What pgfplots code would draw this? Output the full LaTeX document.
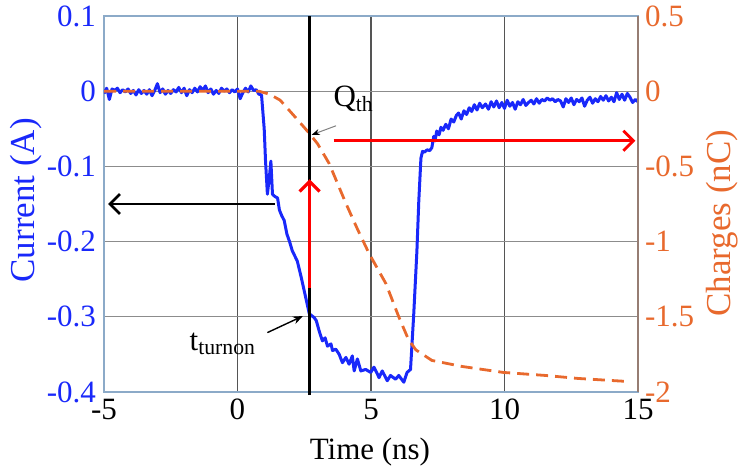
\documentclass[border=0pt]{standalone}
\usepackage{fontspec}
\setmainfont{Liberation Serif}
\usepackage{pgfplots}
\usepackage{pgfplotstable}
\pgfplotsset{compat=1.18}
\usetikzlibrary{arrows.meta}

\definecolor{curblue}{RGB}{25,40,250}
\definecolor{chgorange}{RGB}{232,105,45}
\definecolor{axblue}{RGB}{140,170,200}
\definecolor{axbrown}{RGB}{150,125,115}
\definecolor{gridv}{RGB}{85,85,85}
\definecolor{gridh}{RGB}{140,140,140}

% drain current (A)
\pgfplotstableread{
t I
-5.00 -0.003
-4.90 0.004
-4.80 -0.011
-4.70 0.003
-4.60 0.001
-4.50 0.004
-4.40 -0.002
-4.30 0.002
-4.20 -0.001
-4.10 0.003
-4.00 -0.003
-3.90 0.001
-3.80 -0.005
-3.70 0.002
-3.60 -0.003
-3.50 0.001
-3.40 -0.004
-3.30 0.002
-3.20 -0.006
-3.10 0.001
-3.00 0.010
-2.90 -0.002
-2.80 0.003
-2.70 -0.004
-2.60 0.001
-2.50 -0.003
-2.40 0.002
-2.30 -0.001
-2.20 0.005
-2.10 -0.002
-2.00 0.004
-1.90 -0.006
-1.80 0.002
-1.70 -0.002
-1.60 0.004
-1.50 -0.001
-1.40 0.006
-1.30 0.001
-1.20 0.007
-1.10 -0.002
-1.00 0.003
-0.90 -0.004
-0.80 0.001
-0.70 -0.003
-0.60 0.004
-0.50 0.000
-0.40 0.003
-0.30 -0.002
-0.20 0.002
-0.10 -0.001
0.00 0.003
0.10 -0.010
0.20 -0.002
0.30 0.004
0.40 -0.001
0.50 0.007
0.60 0.001
0.70 0.002
0.80 -0.004
0.90 -0.005
1.00 -0.050
1.05 -0.093
1.12 -0.137
1.20 -0.112
1.25 -0.093
1.31 -0.137
1.40 -0.140
1.50 -0.142
1.57 -0.158
1.65 -0.165
1.75 -0.172
1.85 -0.190
1.95 -0.200
2.05 -0.212
2.24 -0.226
2.39 -0.248
2.69 -0.296
2.87 -0.301
2.95 -0.305
3.06 -0.319
3.18 -0.332
3.28 -0.328
3.37 -0.339
3.50 -0.336
3.56 -0.345
3.68 -0.343
3.81 -0.350
3.93 -0.361
4.06 -0.354
4.18 -0.363
4.30 -0.352
4.37 -0.372
4.49 -0.356
4.62 -0.372
4.80 -0.370
4.99 -0.374
5.11 -0.367
5.24 -0.376
5.30 -0.381
5.42 -0.372
5.61 -0.385
5.73 -0.378
5.92 -0.383
6.04 -0.378
6.23 -0.387
6.35 -0.374
6.48 -0.370
6.60 -0.297
6.72 -0.212
6.79 -0.146
6.87 -0.089
6.93 -0.080
7.00 -0.081
7.10 -0.078
7.20 -0.079
7.28 -0.075
7.35 -0.060
7.40 -0.066
7.46 -0.053
7.55 -0.058
7.62 -0.048
7.70 -0.052
7.80 -0.044
7.90 -0.050
8.00 -0.037
8.10 -0.041
8.20 -0.032
8.28 -0.029
8.38 -0.037
8.48 -0.026
8.58 -0.031
8.68 -0.022
8.77 -0.027
8.87 -0.018
8.97 -0.025
9.07 -0.016
9.17 -0.022
9.29 -0.017
9.40 -0.024
9.50 -0.014
9.60 -0.021
9.70 -0.013
9.80 -0.022
9.90 -0.015
10.00 -0.023
10.10 -0.012
10.20 -0.020
10.30 -0.015
10.40 -0.024
10.50 -0.014
10.60 -0.018
10.70 -0.011
10.80 -0.019
10.90 -0.015
11.00 -0.012
11.10 -0.017
11.20 -0.010
11.30 -0.016
11.40 -0.011
11.50 -0.013
11.60 -0.009
11.70 -0.012
11.80 -0.010
11.90 -0.014
12.00 -0.011
12.10 -0.013
12.20 -0.021
12.30 -0.010
12.40 -0.015
12.50 -0.009
12.60 -0.018
12.70 -0.011
12.80 -0.014
12.90 -0.009
13.00 -0.020
13.10 -0.012
13.20 -0.008
13.30 -0.016
13.40 -0.010
13.50 -0.014
13.60 -0.007
13.70 -0.012
13.80 -0.006
13.90 -0.013
14.00 -0.008
14.10 -0.014
14.20 -0.002
14.30 -0.011
14.40 -0.004
14.50 -0.012
14.60 -0.003
14.70 -0.008
14.80 -0.015
14.90 -0.011
15.00 -0.014
}\currenttable

% charges (nC)
\pgfplotstableread{
t Q
-5.00 0.00
0.80 0.00
1.20 -0.02
1.60 -0.06
2.00 -0.14
2.20 -0.18
2.69 -0.28
3.00 -0.35
3.43 -0.48
4.07 -0.75
4.50 -0.92
4.93 -1.08
5.56 -1.28
6.04 -1.50
6.40 -1.65
6.68 -1.72
7.28 -1.79
8.40 -1.83
9.96 -1.87
11.53 -1.89
12.76 -1.91
14.60 -1.93
}\chargetable

\begin{document}
\begin{tikzpicture}
\useasboundingbox (-52pt,-39pt) rectangle (320pt,196pt);
\begin{axis}[
    scale only axis, width=267pt, height=188pt,
    xmin=-5, xmax=15, ymin=-0.4, ymax=0.1,
    xtick={-5,0,5,10,15}, xticklabels={-5,0,5,10,15},
    ytick={-0.4,-0.3,-0.2,-0.1,0,0.1},
    yticklabels={-0.4,-0.3,-0.2,-0.1,0,0.1},
    major tick length=0pt,
    axis line style={axblue, line width=0.6pt},
    xmajorgrids, ymajorgrids,
    x grid style={gridv, line width=0.6pt},
    y grid style={gridh, line width=0.6pt},
    xticklabel style={font=\fontsize{15.5}{18}\selectfont, text=black},
    yticklabel style={font=\fontsize{15.5}{18}\selectfont, text=curblue, xshift=-0.5pt},
    xlabel={Time (ns)},
    xlabel style={font=\fontsize{15.5}{18}\selectfont, at={(axis description cs:0.498,-0.16)}, anchor=center},
    ylabel={Current (A)},
    ylabel style={font=\fontsize{17.5}{20}\selectfont, text=curblue, at={(axis description cs:-0.146,0.51)}, anchor=center},
]
\addplot[curblue, line width=1.5pt, line join=round] table[x=t, y=I] {\currenttable};
\end{axis}
\begin{axis}[
    scale only axis, width=267pt, height=188pt,
    xmin=-5, xmax=15, ymin=-2, ymax=0.5,
    axis x line=none, axis y line*=right,
    ytick={-2,-1.5,-1,-0.5,0,0.5},
    yticklabels={-2,-1.5,-1,-0.5,0,0.5},
    major tick length=0pt,
    y axis line style={axbrown, line width=0.6pt},
    yticklabel style={font=\fontsize{15.5}{18}\selectfont, text=chgorange},
    ylabel={Charges (nC)},
    ylabel style={font=\fontsize{17.5}{20}\selectfont, text=chgorange, at={(axis description cs:1.157,0.449)}, anchor=center},
    clip=false,
]
\addplot[chgorange, line width=1.4pt, dash pattern=on 6pt off 3.5pt] table[x=t, y=Q] {\chargetable};
% annotations (right-axis units: charge = 5 x current)
\draw[black, line width=1.6pt] (axis cs:2.7,-2.02) -- (axis cs:2.7,0.5);
\draw[red, line width=1.6pt, -{Straight Barb[length=5pt,width=10pt]}] (axis cs:2.7,-1.31) -- (axis cs:2.7,-0.585);
\draw[black, line width=1.4pt, -{Straight Barb[length=5pt,width=10pt]}] (axis cs:1.4,-0.75) -- (axis cs:-4.85,-0.75);
\draw[red, line width=1.4pt, -{Straight Barb[length=5pt,width=10pt]}] (axis cs:3.6,-0.33) -- (axis cs:14.9,-0.33);
\node[font=\fontsize{15.5}{18}\selectfont] at (axis cs:4.35,-0.05) {Q\textsubscript{th}};
\draw[gray, line width=0.5pt, -{Stealth[length=4pt,width=3pt,black]}] (axis cs:3.69,-0.23) -- (axis cs:2.78,-0.29);
\node[font=\fontsize{15.5}{18}\selectfont] at (axis cs:-0.55,-1.68) {t\textsubscript{turnon}};
\draw[black, line width=0.7pt, -{Stealth[length=5pt,width=4pt]}] (axis cs:1.12,-1.605) -- (axis cs:2.45,-1.495);
\end{axis}
\end{tikzpicture}
\end{document}
